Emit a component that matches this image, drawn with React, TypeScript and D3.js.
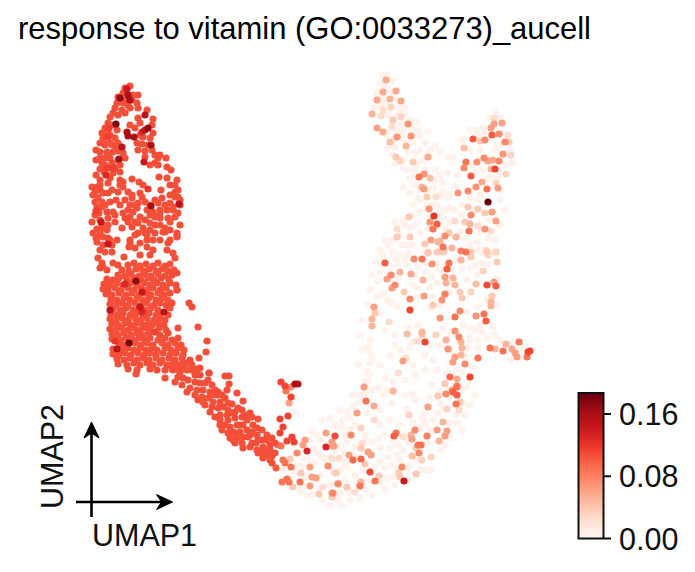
import React from "react";
import * as d3 from "d3";

const title = "response to vitamin (GO:0033273)_aucell";
const colorTicks = [0, 0.08, 0.16];
const colorTickLabels = ["0.00", "0.08", "0.16"];
const vMax = 0.187;
const redsStops = ["#fff5f0", "#fee0d2", "#fcbba1", "#fc9272", "#fb6a4a", "#ef3b2c", "#cb181d", "#a50f15", "#67000d"];
const mainRed = 0.107;
const paleValue = 0.004;
const readingGain = 1.25; // the salmon readings below were noted a little low

// x,y pairs, value = mainRed
const lobeRed = [130,86,123,93,133,95,117,103,123,103,137,103,115,108,122,110,138,108,147,110,113,113,125,113,110,117,138,118,153,119,108,123,105,128,152,125,140,123,143,137,153,133,102,133,103,138,110,135,115,138,100,143,105,145,112,145,118,143,137,143,142,144,152,150,138,150,145,151,100,152,107,152,113,152,123,153,118,151,155,155,145,157,158,158,166,158,100,158,105,158,110,158,125,158,155,163,150,165,158,165,102,163,120,165,115,168,108,168,100,169,113,173,167,167,171,170,100,180,110,178,132,179,159,177,167,178,120,180,123,182,139,182,120,185,123,187,92,187,97,187,100,190,177,180,175,185,170,185,178,190,103,193,108,193,143,185,118,192,128,192,132,195,140,193,161,190,175,197,178,197,93,195,95,202,102,202,110,202,132,198,142,197,155,200,162,198,130,205,138,203,145,202,158,203,173,207,97,207,102,207,128,210,137,208,147,210,160,210,167,210,173,210,107,212,113,212,123,213,133,212,153,212,115,215,160,213,178,213,140,217,130,217,100,220,135,222,145,220,160,218,168,218,175,217,138,223,150,223,155,225,97,229,102,228,122,228,143,228,132,227,107,230,163,232,150,230,138,233,177,233,170,230,100,233,103,237,147,235,155,233,177,237,97,237];
const lobeFill = [118,115,113,125,117,130,108,133,104,143,110,143,116,148,96,150,96,160,105,165,112,163,118,160,104,172,96,175,108,183,100,185,112,190,95,192,120,172,116,200,98,198,105,205,99,213,92,222,95,215,108,218,102,224,108,225,96,238,93,233,108,238,112,245,103,245,100,268,135,128,140,135,150,138,130,125,148,145,160,155,128,105,118,97,124,100,130,108,132,100,138,95,125,88,125,200,135,205,150,205,165,205,170,203,125,218,150,215,170,222,160,225,145,233,170,240,130,240,135,248,160,240,180,225,180,205,170,195,120,205,128,222,115,222,155,217,165,228,180,200,175,192];
const neckRed = [97,242,100,250,98,258,105,252,112,252,117,240,110,240,103,267,102,263,113,263,118,265,107,270,130,243,129,247,124,257,140,255,140,243,147,240,153,240,135,235,147,247,150,255,153,250,168,243,167,250,173,253,175,258,177,235,165,232];
const blobRed = [128,265,134,263,140,266,146,264,153,266,158,263,165,266,170,264,122,270,129,271,136,269,143,271,149,269,156,271,162,269,168,271,174,270,118,275,125,276,131,274,139,276,145,274,151,276,158,274,165,276,172,275,107,279,113,280,119,278,127,280,134,278,141,280,148,278,154,280,161,278,169,280,104,284,110,285,117,283,123,285,130,283,137,285,144,283,150,285,157,283,163,285,170,283,176,285,103,289,108,290,115,288,121,290,128,288,134,290,141,288,147,290,153,288,160,290,166,288,177,290,106,294,112,295,119,293,126,295,132,293,139,295,145,293,151,295,158,293,164,295,170,293,111,299,117,300,124,298,130,300,137,298,143,300,149,298,156,300,162,298,168,300,110,304,116,305,122,303,128,305,135,303,141,305,147,303,154,305,160,303,166,305,172,303,113,309,120,310,126,308,133,310,139,308,145,310,151,308,158,310,170,308,111,314,117,315,123,313,130,315,136,313,143,315,149,313,156,315,161,313,168,315,110,319,116,320,122,318,128,320,135,318,141,320,147,318,154,320,160,318,165,320,112,324,118,325,125,323,131,325,137,323,143,325,149,323,152,325,158,323,164,325,110,329,116,330,122,328,128,330,134,328,140,330,146,328,150,330,159,328,166,330,112,334,118,335,124,333,131,335,137,333,143,335,149,333,160,335,168,333,112,339,120,340,126,338,133,340,139,338,145,340,150,338,158,340,165,338,172,340,119,344,124,345,135,343,141,345,147,343,153,345,162,343,168,345,175,343,181,345,113,349,122,350,128,348,134,350,140,348,146,350,152,348,157,350,165,348,171,350,178,348,184,350,113,354,119,355,125,353,131,355,138,353,144,355,150,353,156,355,163,353,170,355,176,353,183,355,117,359,124,360,130,358,137,360,143,358,149,360,156,358,162,360,169,358,175,360,182,358,190,360,118,364,127,365,134,363,140,365,147,363,153,365,160,363,167,365,173,363,179,365,186,363,192,365,128,369,137,370,150,369,157,370,172,369,178,370,185,369,191,370,197,369,136,374,189,303,192,307,198,327,178,328,178,338,207,341,206,352,199,358,209,373,165,378,177,290,177,273];
const tailRed = [177,365,183,363,190,363,173,370,180,372,187,370,193,370,200,368,200,375,175,382,182,385,188,380,195,382,190,388,187,392,200,383,205,383,212,385,197,390,203,390,210,392,218,392,227,390,202,397,208,398,217,395,225,398,203,402,213,402,220,402,228,403,232,404,212,407,218,408,223,407,238,408,242,410,215,417,220,415,227,415,232,413,250,413,252,417,220,425,222,430,228,420,235,418,242,417,247,420,258,419,230,427,237,425,243,425,253,425,228,433,233,432,240,432,247,430,257,428,262,430,230,438,237,438,243,437,250,435,257,435,267,435,235,443,242,443,243,448,252,443,258,440,265,440,272,438,250,447,257,450,263,447,270,445,275,443,258,453,265,450,268,455,275,453,263,458,270,460,272,463,209,373,225,376,229,376,229,384,237,393,243,401];
const tailFill = [180,368,195,375,208,380,215,390,222,395,212,395,205,405,210,412,220,420,235,412,225,425,235,433,245,415,248,437,262,440,262,452,256,443,270,450,272,456,268,440,233,440,228,410,240,425,252,432,195,395,198,400,183,378,178,377,165,370];

// x,y,value triples
const lobeDark = [128,95,0.16,130,100,0.16,120,98,0.17,127,89,0.14,145,115,0.15,116,124,0.18,148,128,0.17,145,130,0.15,142,132,0.13,127,132,0.16,128,136,0.16,134,137,0.16,122,147,0.15,151,145,0.16,119,159,0.16,144,162,0.14,106,175,0.13,148,189,0.12,151,206,0.16,179,204,0.15,101,222,0.14,96,211,0.115,108,137,0.115,109,128,0.115,107,168,0.115,113,168,0.115];
const blobDark = [108,244,0.14,125,284,0.13,136,281,0.17,142,292,0.14,110,310,0.15,140,307,0.14,142,312,0.13,164,312,0.15,155,332,0.115,115,341,0.12,129,343,0.18,117,349,0.15];
const bridgeCells = [281,382,0.09,285,386,0.09,286,391,0.07,291,387,0.06,295,384,0.16,298,384,0.15,291,397,0.09,289,403,0.05,288,416,0.09,280,419,0.09,283,427,0.09,280,433,0.09,292,437,0.09,287,441,0.09,294,442,0.09,281,446,0.07,278,445,0.07,283,460,0.07,276,468,0.08,285,463,0.07,291,467,0.07,282,482,0.07,287,479,0.07,289,482,0.07,300,482,0.07,297,453,0.06,305,440,0.05,303,445,0.05,307,451,0.13,326,447,0.13,335,436,0.11,326,433,0.05,332,442,0.05,333,446,0.05,328,466,0.06,310,467,0.05,316,478,0.05,312,477,0.05,310,486,0.05,332,493,0.05,319,494,0.03,338,483,0.03,301,473,0.03,293,487,0.03,290,459,0.03,335,473,0.02,323,487,0.02];
const bottomCells = [364,387,0.05,393,391,0.04,366,401,0.07,374,406,0.045,357,413,0.05,374,420,0.02,361,428,0.025,351,435,0.06,334,446,0.05,396,433,0.07,394,436,0.08,415,430,0.06,411,435,0.04,412,439,0.05,427,436,0.065,437,430,0.05,447,431,0.05,445,436,0.05,439,441,0.04,443,422,0.04,428,407,0.05,409,415,0.025,446,394,0.06,438,396,0.03,445,383,0.02,453,392,0.08,457,387,0.07,457,395,0.08,456,404,0.07,460,402,0.03,447,409,0.025,459,410,0.02,418,445,0.07,421,445,0.07,419,453,0.06,416,448,0.03,412,456,0.035,431,457,0.025,422,460,0.025,402,467,0.06,399,473,0.03,400,477,0.03,404,481,0.14,416,474,0.03,370,472,0.11,375,481,0.07,379,476,0.03,361,459,0.075,353,460,0.075,349,455,0.05,368,452,0.05,371,455,0.05,365,464,0.03,361,448,0.03,362,443,0.02,336,473,0.03,338,484,0.06,347,487,0.03,360,486,0.07,361,482,0.04,355,492,0.02,333,493,0.06,332,497,0.03,332,458,0.02,339,458,0.02,403,437,0.02];
const middleCells = [385,263,0.08,414,259,0.06,422,259,0.07,432,264,0.055,449,263,0.07,447,269,0.1,400,272,0.04,391,275,0.06,387,279,0.05,411,274,0.045,423,280,0.04,395,285,0.06,392,288,0.05,404,292,0.03,445,277,0.05,453,278,0.04,446,283,0.04,455,285,0.04,445,294,0.065,424,296,0.05,410,299,0.06,442,300,0.055,433,305,0.03,410,310,0.09,374,307,0.05,375,313,0.03,372,319,0.04,372,326,0.04,389,322,0.02,460,292,0.03,462,298,0.03,471,292,0.025,476,284,0.035,487,285,0.11,496,286,0.1,494,282,0.05,492,296,0.03,491,302,0.04,491,306,0.04,460,311,0.06,455,317,0.07,440,318,0.055,476,316,0.055,484,314,0.07,486,321,0.08,455,331,0.055,459,337,0.06,461,342,0.04,446,340,0.04,448,349,0.055,462,348,0.04,425,342,0.09,422,332,0.04,422,335,0.03,407,334,0.035,417,341,0.02,436,335,0.025,490,348,0.07,495,349,0.04,506,344,0.04,519,342,0.07,503,351,0.07,512,349,0.045,515,353,0.05,517,357,0.05,530,351,0.09,528,352,0.09,527,357,0.07,478,358,0.07,461,355,0.04,455,357,0.05,453,362,0.05,465,364,0.06,403,361,0.05,406,358,0.02,398,373,0.02,450,377,0.075,470,377,0.09,457,379,0.045,445,384,0.03,457,386,0.07,452,390,0.05,461,260,0.04,466,252,0.07,461,251,0.065,428,253,0.03,437,252,0.03,444,251,0.03,471,257,0.03,483,271,0.025,488,255,0.025,497,262,0.03,496,252,0.025,487,252,0.03];
const upperCells = [386,80,0.045,383,92,0.045,396,91,0.045,377,100,0.045,390,99,0.04,401,101,0.045,391,107,0.025,383,110,0.02,372,114,0.04,381,116,0.02,393,120,0.03,401,117,0.025,392,126,0.02,408,124,0.055,377,128,0.05,383,132,0.045,397,137,0.055,411,136,0.055,390,142,0.035,406,146,0.04,428,157,0.045,396,157,0.03,400,161,0.025,413,162,0.03,419,177,0.07,424,174,0.055,430,178,0.035,422,187,0.04,424,189,0.05,427,197,0.03,436,197,0.02,429,209,0.055,434,216,0.12,437,224,0.1,430,222,0.055,433,229,0.07,409,217,0.03,397,237,0.03,397,229,0.02,410,237,0.03,494,118,0.02,502,123,0.05,494,124,0.05,491,128,0.05,473,139,0.08,485,140,0.06,480,141,0.03,492,135,0.08,499,134,0.06,508,135,0.02,505,142,0.06,509,142,0.03,464,148,0.035,503,154,0.055,511,155,0.025,484,158,0.06,466,162,0.07,464,168,0.06,477,162,0.055,488,161,0.05,493,160,0.045,499,161,0.06,491,169,0.04,495,169,0.09,471,176,0.08,506,174,0.025,482,182,0.045,476,187,0.055,487,189,0.07,496,183,0.025,498,188,0.05,468,191,0.06,458,193,0.055,488,202,0.187,492,212,0.05,496,221,0.05,485,229,0.055,478,209,0.03,485,213,0.03,471,215,0.06,468,207,0.03,465,222,0.03,470,224,0.04,469,231,0.07,478,226,0.02,491,231,0.02,455,221,0.02,456,237,0.04,445,236,0.06,449,233,0.03,440,241,0.04,438,242,0.04,431,240,0.05,425,244,0.03,443,247,0.07,452,248,0.04,443,252,0.03,428,252,0.025,486,250,0.02,495,252,0.02,471,252,0.03];

// x,y pairs, value = paleValue
const paleLeftBottom = [294,397,294,412,307,496,317,435,310,440,335,426,340,428,315,462,303,458,308,460,322,457,328,458,318,453,313,448,337,447,340,460,337,500,320,488,303,487,283,470,302,467,295,472,320,475,330,485,333,472,305,477];
const paleBottom = [368,382,372,390,365,393,358,402,353,407,367,413,380,410,350,418,343,420,335,425,342,427,383,395,387,390,392,403,412,394,407,409,422,418,425,423,433,420,450,423,440,403,430,398,437,413,443,408,450,397,462,390,467,387,463,403,457,423,393,440,380,448,390,448,378,438,372,442,367,442,355,447,348,440,342,445,403,450,397,455,388,457,380,462,373,467,363,470,355,475,347,467,340,470,385,468,392,465,397,470,410,465,387,478,370,480,340,493,338,498,350,492,367,490,357,483,408,443,427,443,430,430,413,422,420,428,405,435,398,445,417,460,333,460,345,453,335,450,380,483,393,477];
const paleMiddle = [383,256,393,252,400,255,408,253,398,264,407,265,418,267,425,262,437,263,457,260,470,268,482,263,487,264,378,281,398,278,413,285,418,288,432,277,437,283,430,287,467,280,477,275,497,278,387,300,392,303,377,297,383,293,417,297,433,297,450,292,477,307,487,300,497,305,380,313,397,307,430,308,440,305,467,312,493,327,482,332,487,338,470,328,418,325,408,327,395,335,370,340,368,347,370,353,370,363,367,372,370,375,365,382,393,382,412,343,410,348,413,365,433,360,450,363,447,373,457,370,473,367,465,357,468,347,478,340,478,348,470,337,450,333,443,328,525,347,510,360,518,357,483,253,463,325];
const paleUpper = [383,75,388,75,380,83,392,81,378,92,388,88,383,98,395,98,385,103,398,107,405,107,380,105,388,115,410,120,417,122,400,125,418,131,428,131,387,135,403,132,420,136,402,138,413,143,425,143,395,147,388,148,435,146,440,152,415,153,393,155,403,160,423,160,448,158,453,157,395,164,403,168,417,165,410,178,448,173,457,175,435,180,442,182,455,186,403,187,410,193,443,191,418,198,448,198,462,205,420,212,437,205,450,208,413,205,443,218,403,220,415,225,450,222,428,228,393,240,388,245,402,245,412,245,465,238,477,242,460,232,488,238,497,145,483,127,477,130,500,145,512,163,483,170,497,177,477,172,488,178,473,165,407,245,450,195,433,188,427,205];
const paleFill = [376,95,384,85,392,92,400,110,390,110,375,108,396,116,405,113,412,128,398,130,390,130,404,140,394,140,416,135,420,150,408,152,430,150,425,170,414,172,408,170,435,170,440,175,430,190,416,185,440,195,420,190,432,205,420,200,445,210,440,225,430,215,412,215,420,232,405,225,395,222,400,235,410,228,385,240,380,250,376,262,372,275,370,290,368,305,362,320,360,335,362,350,372,358,358,365,385,262,380,272,390,268,396,260,405,258,415,275,425,272,440,270,452,270,462,268,475,265,478,250,470,245,480,232,495,240,500,225,490,220,505,210,500,200,478,200,470,198,462,215,445,228,455,210,440,212,495,112,500,118,490,118,485,132,470,130,478,135,462,140,470,150,480,150,495,150,505,165,500,172,490,178,480,195,510,150,475,210,500,190,385,330,395,345,400,350,390,355,380,365,385,378,378,388,395,392,405,380,415,375,425,370,430,345,440,345,450,350,437,370,425,355,405,395,415,400,425,412,440,392,432,385,470,340,475,330,480,325,495,335,500,340,510,345,520,350,470,380,462,372,475,395,470,405,465,415,455,415,462,430,450,438,440,450,432,470,445,445,425,470,410,480,395,485,385,490,372,495,360,498,350,500,345,480,342,505,330,505,322,500,312,495,300,492,298,465,290,478,355,425,365,435,380,425,390,420,400,425,350,430,345,435,352,395,360,395,347,412,340,410,330,418,322,420,312,432,320,440,325,460,345,462,355,455,385,435,400,460,408,470,420,470];

function pairs(flat: number[], v: number) {
  const out: { x: number; y: number; v: number }[] = [];
  for (let i = 0; i + 1 < flat.length; i += 2) out.push({ x: flat[i], y: flat[i + 1], v });
  return out;
}
function triples(flat: number[], gain = 1) {
  const out: { x: number; y: number; v: number }[] = [];
  for (let i = 0; i + 2 < flat.length; i += 3) {
    const raw = flat[i + 2];
    out.push({ x: flat[i], y: flat[i + 1], v: raw < 0.1 ? raw * gain : raw });
  }
  return out;
}

const cells = [
  ...pairs(paleLeftBottom, paleValue),
  ...pairs(paleBottom, paleValue),
  ...pairs(paleMiddle, paleValue),
  ...pairs(paleUpper, paleValue),
  ...pairs(paleFill, paleValue),
  ...pairs(lobeRed, mainRed),
  ...pairs(lobeFill, mainRed),
  ...pairs(neckRed, mainRed),
  ...pairs(blobRed, mainRed),
  ...pairs(tailRed, mainRed),
  ...pairs(tailFill, mainRed),
  ...triples(lobeDark),
  ...triples(blobDark),
  ...triples(bridgeCells, readingGain),
  ...triples(bottomCells, readingGain),
  ...triples(middleCells, readingGain),
  ...triples(upperCells, readingGain),
].sort((a, b) => a.v - b.v);

const xScale = d3.scaleLinear().domain([70, 540]).range([70, 540]);
const yScale = d3.scaleLinear().domain([60, 510]).range([60, 510]);
const color = d3
  .scaleLinear<string>()
  .domain(redsStops.map((_, i) => (i / (redsStops.length - 1)) * vMax))
  .range(redsStops)
  .interpolate(d3.interpolateRgb);

const barY = d3.scaleLinear().domain([0, vMax]).range([538.5, 393]);
const FONT = "'Liberation Sans', Arial, sans-serif";
const INK = "#111";

export default function App() {
  return (
    <svg width={695} height={572} style={{ position: "absolute", left: 0, top: 0, background: "#fff" }} fontFamily={FONT}>
      <defs>
        <linearGradient id="reds" x1="0" y1="1" x2="0" y2="0">
          {redsStops.map((c, i) => (
            <stop key={i} offset={i / (redsStops.length - 1)} stopColor={c} />
          ))}
        </linearGradient>
      </defs>
      <text x={18} y={39} fontSize={30.9} textLength={573} lengthAdjust="spacingAndGlyphs" fill="#000">{title}</text>
      <g>
        {cells.map((d, i) => (
          <circle key={i} cx={xScale(d.x)} cy={yScale(d.y)} r={3.6} fill={color(d.v)} />
        ))}
      </g>
      {/* embedding arrows */}
      <g fill="#000" stroke="#000" strokeWidth={2.6}>
        <line x1={91.5} y1={517} x2={91.5} y2={428} />
        <line x1={76} y1={502} x2={166} y2={502} />
        <path d="M91.5,422 L99,438 L91.5,433 L84,438 Z" strokeWidth={1} />
        <path d="M172.5,502 L156.5,494.5 L161.5,502 L156.5,509.5 Z" strokeWidth={1} />
      </g>
      <text x={92} y={546} fontSize={30.5} fill="#111">UMAP1</text>
      <text transform="translate(63,509) rotate(-90)" fontSize={30.5} fill="#111">UMAP2</text>
      {/* colour bar */}
      <rect x={578.5} y={393} width={25} height={145.5} fill="url(#reds)" stroke={INK} strokeWidth={2} />
      {colorTicks.map((t, i) => (
        <g key={t}>
          <line x1={604} x2={611} y1={barY(t)} y2={barY(t)} stroke={INK} strokeWidth={2} />
          <text x={619} y={barY(t) + 11} fontSize={30.5} fill="#111">{colorTickLabels[i]}</text>
        </g>
      ))}
    </svg>
  );
}
